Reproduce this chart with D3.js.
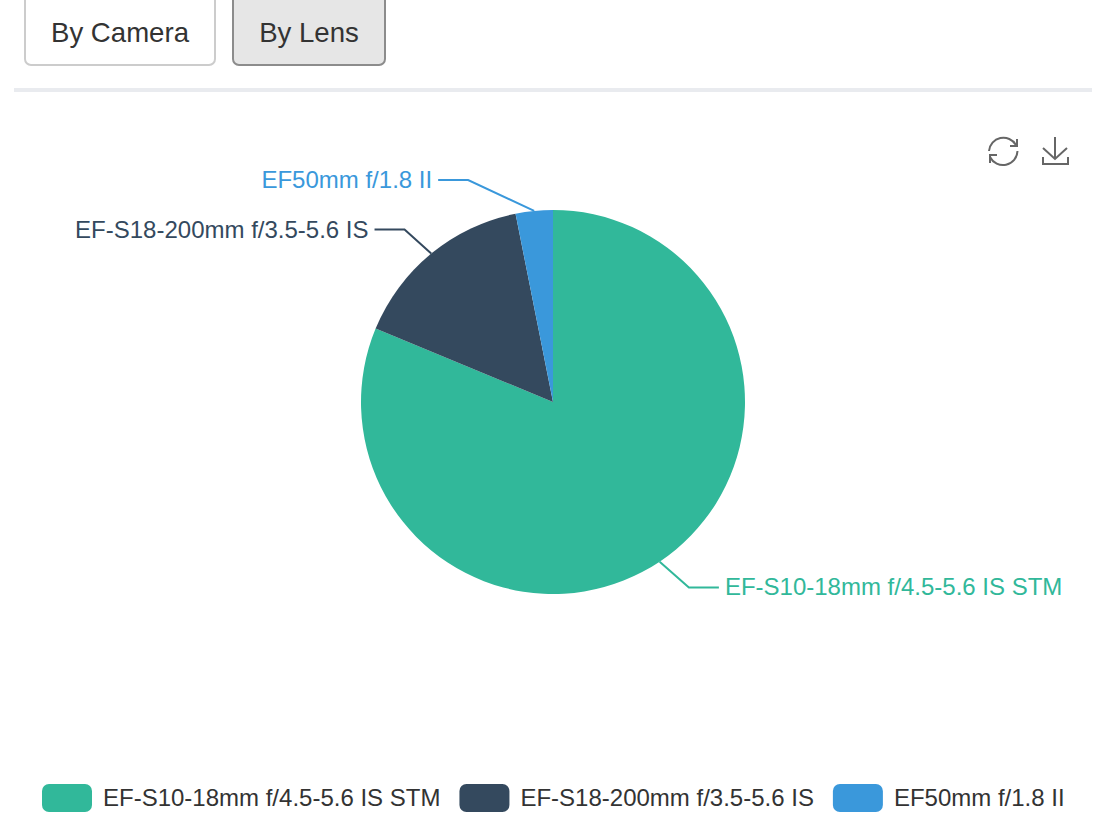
<!DOCTYPE html>
<html>
<head>
<meta charset="utf-8">
<script src="https://cdn.jsdelivr.net/npm/d3@7"></script>
<style>
  html, body { margin: 0; padding: 0; background: #fff; overflow: hidden; }
  svg { display: block; }
  text { font-family: "Liberation Sans", Arial, sans-serif; }
</style>
</head>
<body>
<div id="chart"></div>
<script>
var lenses = ['EF-S10-18mm f/4.5-5.6 IS STM', 'EF-S18-200mm f/3.5-5.6 IS', 'EF50mm f/1.8 II']
var shots = [26, 5, 1]
var colors = ['#31b89a', '#34495e', '#3a98db']
var buttonLabels = ['By Camera', 'By Lens']

var WIDTH = 1094
,   HEIGHT = 834
,   CX = 553
,   CY = 402
,   RADIUS = 192
,   ELBOW_RADIUS = 223
,   GUIDE_LENGTH = 30
,   FONT_SIZE = 24

// labels get pushed sideways by the overlap avoidance in the original
var elbowNudge = [12, -7, -63]

var svg = d3.select('#chart').append('svg')
  .attr('width', WIDTH)
  .attr('height', HEIGHT)

// toolbar buttons
var buttons = svg.selectAll('.button')
  .data([
    {x: 25, w: 190, fill: '#fff', stroke: '#ccc'}
  , {x: 233, w: 152, fill: '#e6e6e6', stroke: '#8c8c8c'}
  ])
  .enter().append('g')
  .attr('class', 'button')

buttons.append('rect')
  .attr('x', (d) => d.x)
  .attr('y', -6)
  .attr('width', (d) => d.w)
  .attr('height', 71)
  .attr('rx', 6)
  .attr('fill', (d) => d.fill)
  .attr('stroke', (d) => d.stroke)
  .attr('stroke-width', 2)

buttons.append('text')
  .attr('x', (d) => d.x + d.w / 2)
  .attr('y', 42)
  .attr('text-anchor', 'middle')
  .attr('font-size', 27.6)
  .attr('fill', '#333')
  .text((d, i) => buttonLabels[i])

svg.append('rect')
  .attr('x', 14)
  .attr('y', 88)
  .attr('width', 1078)
  .attr('height', 4)
  .attr('fill', '#e9ebef')

// refresh and download icons
var icons = svg.append('g')
  .attr('fill', 'none')
  .attr('stroke', '#666')
  .attr('stroke-width', 2)

icons.append('path')
  .attr('d', 'M989 151A14.5 14.5 0 0 1 1016 145M1017.5 151A14.5 14.5 0 0 1 990 157')
icons.append('path')
  .attr('d', 'M1017 139V146H1010M990 163V155H997')
icons.append('path')
  .attr('d', 'M1055 137V158M1043 148L1055 159L1067 148M1043 157V164H1068V157')

// pie
var data = d3.pie().sort(null).value((d) => d)(shots)
var arc = d3.arc().innerRadius(0).outerRadius(RADIUS)

var pie = svg.append('g')
  .attr('transform', 'translate(' + CX + ',' + CY + ')')

pie.selectAll('.slice')
  .data(data)
  .enter().append('path')
  .attr('class', 'slice')
  .attr('d', arc)
  .attr('fill', (d, i) => colors[i])

function midAngle(d) {
  return (d.startAngle + d.endAngle) / 2
}

function guidePoints(d, i) {
  var ang = midAngle(d)
  ,   side = Math.sin(ang) > 0 ? 1 : -1
  ,   start = [Math.sin(ang) * RADIUS, -Math.cos(ang) * RADIUS]
  ,   elbow = [Math.sin(ang) * ELBOW_RADIUS + elbowNudge[i], -Math.cos(ang) * ELBOW_RADIUS]
  return [start, elbow, [elbow[0] + side * GUIDE_LENGTH, elbow[1]]]
}

pie.selectAll('.guide')
  .data(data)
  .enter().append('path')
  .attr('class', 'guide')
  .attr('d', (d, i) => d3.line()(guidePoints(d, i)))
  .attr('fill', 'none')
  .attr('stroke', (d, i) => colors[i])
  .attr('stroke-width', 2)

pie.selectAll('.label')
  .data(data)
  .enter().append('text')
  .attr('class', 'label')
  .attr('x', (d, i) => {
    var end = guidePoints(d, i)[2]
    return end[0] + (Math.sin(midAngle(d)) > 0 ? 6 : -6)
  })
  .attr('y', (d, i) => guidePoints(d, i)[2][1] + 8)
  .attr('text-anchor', (d) => Math.sin(midAngle(d)) > 0 ? 'start' : 'end')
  .attr('font-size', FONT_SIZE)
  .attr('fill', (d, i) => colors[i])
  .text((d, i) => lenses[i])

// legend, laid out left to right from the measured text widths
var legend = svg.append('g')
var legendX = 42

lenses.forEach(function(name, i) {
  var item = legend.append('g').attr('transform', 'translate(' + legendX + ',784)')
  item.append('rect')
    .attr('width', 50)
    .attr('height', 28)
    .attr('rx', 7)
    .attr('fill', colors[i])
  var label = item.append('text')
    .attr('x', 61)
    .attr('y', 22)
    .attr('font-size', FONT_SIZE)
    .attr('textLength', null)
    .attr('fill', '#333')
    .text(name)
  legendX += 61 + label.node().getComputedTextLength() + 19
})
</script>
</body>
</html>
